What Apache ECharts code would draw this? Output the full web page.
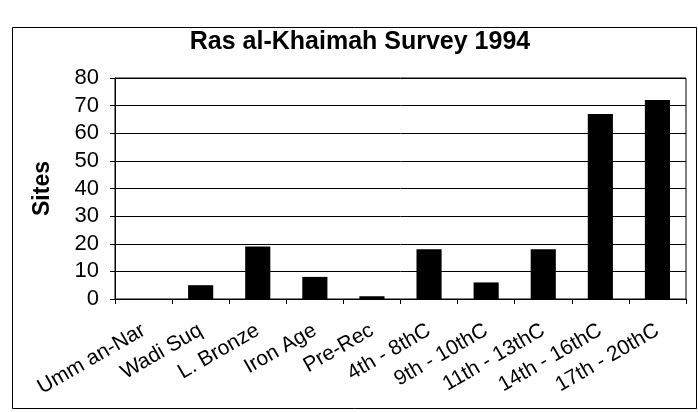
<!DOCTYPE html>
<html>
<head>
<meta charset="utf-8">
<script src="https://cdn.jsdelivr.net/npm/echarts@6/dist/echarts.min.js"></script>
<style>
html,body{margin:0;padding:0;background:#fff;}
#chart{width:698px;height:412px;}
</style>
</head>
<body>
<div id="chart"></div>
<script>
const titleText = 'Ras al-Khaimah Survey 1994';
const yAxisName = 'Sites';
const categories = ['Umm an-Nar', 'Wadi Suq', 'L. Bronze', 'Iron Age', 'Pre-Rec', '4th - 8thC', '9th - 10thC', '11th - 13thC', '14th - 16thC', '17th - 20thC'];
const sites = [0, 5, 19, 8, 1, 18, 6, 18, 67, 72];
const yMin = 0, yMax = 80, yStep = 10;

const FONT = '"Liberation Sans", Arial, sans-serif';
const chart = echarts.init(document.getElementById('chart'), null, {renderer: 'canvas'});
chart.setOption({
  backgroundColor: '#fff',
  animation: false,
  graphic: [
    {type: 'rect', shape: {x: 12.5, y: 27.5, width: 684, height: 381}, style: {fill: 'none', stroke: '#000', lineWidth: 1}, z: -1},
    {type: 'text', x: 360, y: 42, style: {text: titleText, font: 'bold 25px ' + FONT, fill: '#000', textAlign: 'center', textVerticalAlign: 'middle'}}
  ],
  grid: {left: 115, right: 12, top: 78, bottom: 113, show: true, borderColor: '#000', borderWidth: 1},
  xAxis: {
    type: 'category',
    data: categories,
    axisLine: {lineStyle: {color: '#000', width: 1}},
    axisTick: {show: true, length: 5, lineStyle: {color: '#000'}},
    axisLabel: {rotate: 30, interval: 0, fontSize: 21, color: '#000', fontFamily: FONT, margin: 30}
  },
  yAxis: {
    type: 'value',
    min: yMin, max: yMax, interval: yStep,
    name: yAxisName,
    nameLocation: 'middle',
    nameGap: 61,
    nameRotate: 90,
    nameTextStyle: {fontSize: 23, fontWeight: 'bold', color: '#000', fontFamily: FONT},
    axisLine: {show: true, lineStyle: {color: '#000', width: 1}},
    axisTick: {show: true, length: 5, lineStyle: {color: '#000'}},
    axisLabel: {fontSize: 22, color: '#000', fontFamily: FONT, margin: 16},
    splitLine: {show: true, lineStyle: {color: '#000', width: 1}}
  },
  series: [{
    type: 'bar',
    data: sites,
    barWidth: '44%',
    itemStyle: {color: '#000'}
  }]
});
</script>
</body>
</html>
